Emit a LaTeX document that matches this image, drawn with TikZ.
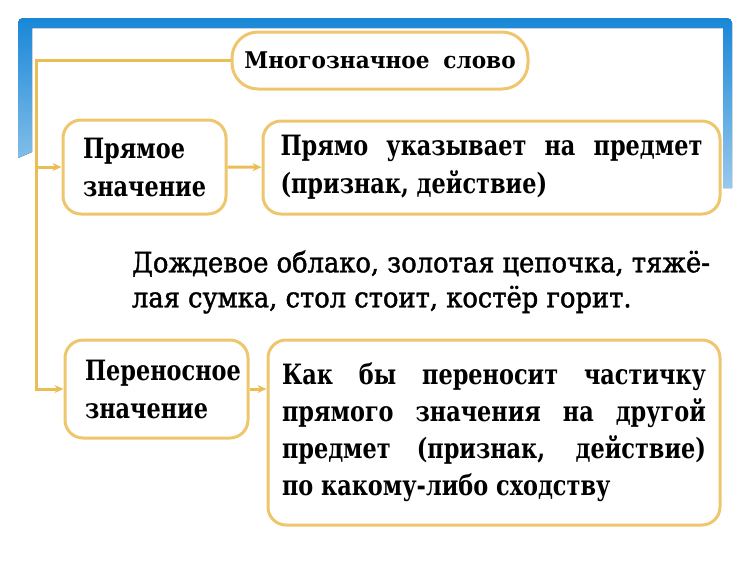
\documentclass[tikz,border=0pt]{standalone}
\usepackage{fontspec}
\setmainfont{DejaVu Serif}
\newfontfamily\boxfont{DejaVu Serif}[FakeStretch=0.8]
\newfontfamily\titlefont{DejaVu Serif}[FakeStretch=0.94]
\newfontfamily\examplefont{DejaVu Serif}[FakeStretch=0.92,FakeBold=1.5]
\usepackage{xcolor}
\definecolor{frameblue}{RGB}{25,135,215}
\definecolor{linegold}{RGB}{235,190,85}
\definecolor{boxgold}{RGB}{238,198,110}
\usepackage{tikz}
\usetikzlibrary{positioning}
\usetikzlibrary{arrows.meta}
\hyphenpenalty=10000

\begin{document}
\begin{tikzpicture}[x=1pt,y=-1pt]
	\useasboundingbox (0,0) rectangle (750,563);
	% blue frame
	\fill[top color=frameblue, bottom color=frameblue!45] (18,158) [rounded corners=5pt]-- (18,18) -- (732,18) -- (732,100) [sharp corners]-- (732,188) -- (723,188) -- (723,28) -- (32,28) -- (32,152) -- cycle;

	\begin{scope}[every node/.style={draw=boxgold, fill=white, line width=3pt, rounded corners=18pt, font=\boxfont\fontsize{28}{38}\selectfont\bfseries}]
	    \node (word) [minimum width=296pt, minimum height=57pt, rounded corners=26pt, font=\titlefont\fontsize{23}{30}\selectfont\bfseries] at (380,60.5) {Многозначное\hspace{.6em}слово};
	    \node (direct) [minimum width=163pt, minimum height=94pt, text width=123pt, align=left] at (144.5,167) {Прямое\\значение};
	    \node (directdef) [minimum width=457pt, minimum height=93pt, text width=422pt, align=justify] at (491.5,167.5) {Прямо указывает на предмет\linebreak (признак, действие)};
	    \node (figur) [minimum width=183pt, minimum height=98pt, text width=143pt, align=left] at (156.5,389) {Переносное\\значение};
	    \node (figdef) [minimum width=452pt, minimum height=185pt, text width=424pt, align=justify, font=\boxfont\fontsize{28}{37}\selectfont\bfseries] at (494,432.5) {Как бы переносит частичку\linebreak прямого значения на другой\linebreak предмет (признак, действие)\linebreak по какому-либо сходству};
	\end{scope}

	\node (example) [font=\examplefont\fontsize{28}{35}\selectfont, text width=578pt, align=justify] at (421,282) {Дождевое облако, золотая цепочка, тяжё-\linebreak лая сумка, стол стоит, костёр горит.};

	\begin{scope}[>={Stealth[length=9pt,width=8pt]},
	              every edge/.style={draw=linegold, line width=3pt}]
	    \coordinate (trunk) at (36,0);
	    \draw [->, linegold, line width=3pt] (word.west) -| (trunk |- figur.west) -- (figur.west);
	    \path [->] (trunk |- direct.west) edge (direct.west);
	    \path [->] (direct) edge (directdef);
	    \path [->] (figur.east) edge (figur.east -| figdef.west);
	\end{scope}
\end{tikzpicture}
\end{document}
